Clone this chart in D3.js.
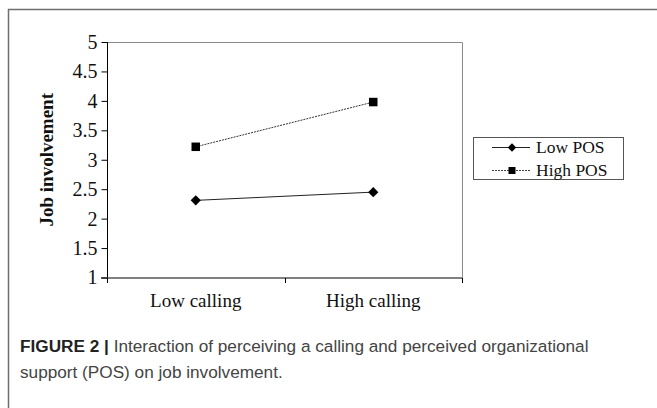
<!DOCTYPE html>
<html>
<head>
<meta charset="utf-8">
<script src="https://cdn.jsdelivr.net/npm/d3@7"></script>
<style>
  body { margin: 0; background: #fff; }
  svg { display: block; }
</style>
</head>
<body>
<svg id="chart" width="657" height="408"></svg>
<script>
// data
const categories = ['Low calling', 'High calling'];
const seriesNames = ['Low POS', 'High POS'];
const lowPOS = [2.31, 2.45];
const highPOS = [3.22, 3.98];
const yTicks = [1, 1.5, 2, 2.5, 3, 3.5, 4, 4.5, 5];
const captionBold = 'FIGURE 2 |';
const captionLines = [
  ' Interaction of perceiving a calling and perceived organizational',
  'support (POS) on job involvement.'
];

const series = [
  { name: seriesNames[0], values: lowPOS, marker: 'diamond', dash: null },
  { name: seriesNames[1], values: highPOS, marker: 'square', dash: '2,1' }
];

const serif = '"Liberation Serif", "Times New Roman", serif';
const sans = '"Liberation Sans", Arial, sans-serif';

const svg = d3.select('#chart');

// outer frame
svg.append('rect')
    .attr('x', 8.5)
    .attr('y', 9.5)
    .attr('width', 700)
    .attr('height', 500)
    .attr('fill', 'none')
    .attr('stroke', '#6e6e6e')
    .attr('stroke-width', 1.5);

const plot = { left: 107, right: 462, top: 42, bottom: 277.5 };

const x = d3.scaleBand()
    .domain(categories)
    .range([plot.left, plot.right]);

const y = d3.scaleLinear()
    .domain([1, 5])
    .range([plot.bottom, plot.top]);

// plot area border (top + right)
svg.append('path')
    .attr('d', `M${plot.left},${plot.top + 0.5}H${plot.right + 0.5}V${plot.bottom}`)
    .attr('fill', 'none')
    .attr('stroke', '#8a8a8a')
    .attr('stroke-width', 1);

// y axis
const yAxis = d3.axisLeft(y)
    .tickValues(yTicks)
    .tickFormat(d3.format('~g'))
    .tickSize(6)
    .tickPadding(4);

svg.append('g')
    .attr('transform', `translate(${plot.left + 0.5},0)`)
    .call(yAxis)
    .call(g => g.select('.domain').attr('d', `M0,${plot.top}V${plot.bottom}`))
    .call(g => g.selectAll('text')
        .attr('font-family', serif)
        .attr('font-size', 20)
        .attr('fill', '#111'));

// x axis: ticks at band boundaries, labels at band centres
const xAxisG = svg.append('g')
    .attr('transform', `translate(0,${plot.bottom + 0.5})`);

xAxisG.append('line')
    .attr('x1', plot.left - 6)
    .attr('x2', plot.right + 0.5)
    .attr('stroke', '#000');

const boundaries = [x(categories[0]), x(categories[1]), x(categories[1]) + x.bandwidth()];
xAxisG.selectAll('.xtick')
  .data(boundaries)
  .join('line')
    .attr('class', 'xtick')
    .attr('x1', d => Math.round(d) + 0.5)
    .attr('x2', d => Math.round(d) + 0.5)
    .attr('y1', 0)
    .attr('y2', 5)
    .attr('stroke', '#000');

xAxisG.selectAll('.xlabel')
  .data(categories)
  .join('text')
    .attr('class', 'xlabel')
    .attr('x', d => x(d) + x.bandwidth() / 2)
    .attr('y', 29)
    .attr('text-anchor', 'middle')
    .attr('font-family', serif)
    .attr('font-size', 19)
    .attr('fill', '#111')
    .text(d => d);

// y axis title
svg.append('text')
    .attr('transform', `translate(53,${(plot.top + plot.bottom) / 2}) rotate(-90)`)
    .attr('text-anchor', 'middle')
    .attr('font-family', serif)
    .attr('font-weight', 'bold')
    .attr('font-size', 19)
    .attr('fill', '#111')
    .text('Job involvement');

// markers
function drawMarker(sel, type, size) {
  if (type === 'square') {
    sel.append('rect')
        .attr('x', -size / 2)
        .attr('y', -size / 2)
        .attr('width', size)
        .attr('height', size)
        .attr('fill', '#000');
  } else {
    const h = size * 0.6;
    sel.append('path')
        .attr('d', `M0,${-h}L${h},0L0,${h}L${-h},0Z`)
        .attr('fill', '#000');
  }
}

const line = d3.line()
    .x((d, i) => x(categories[i]) + x.bandwidth() / 2)
    .y(d => y(d));

const lines = svg.append('g');
series.forEach(s => {
  lines.append('path')
      .datum(s.values)
      .attr('d', line)
      .attr('fill', 'none')
      .attr('stroke', s.dash ? '#333' : '#222')
      .attr('stroke-width', 1)
      .attr('stroke-dasharray', s.dash);

  lines.selectAll(null)
    .data(s.values)
    .join('g')
      .attr('transform', (d, i) => `translate(${x(categories[i]) + x.bandwidth() / 2},${y(d)})`)
      .each(function() { drawMarker(d3.select(this), s.marker, 8.5); });
});

// legend
const legend = svg.append('g')
    .attr('transform', 'translate(473,137)');

legend.append('rect')
    .attr('x', 0.5)
    .attr('y', 0.5)
    .attr('width', 150)
    .attr('height', 42)
    .attr('fill', '#fff')
    .attr('stroke', '#555')
    .attr('stroke-width', 1);

const items = legend.selectAll('.item')
  .data(series)
  .join('g')
    .attr('class', 'item')
    .attr('transform', (d, i) => `translate(0,${10.5 + i * 23})`);

items.append('line')
    .attr('x1', 19)
    .attr('x2', 57)
    .attr('stroke', d => d.dash ? '#444' : '#222')
    .attr('stroke-dasharray', d => d.dash);

items.append('g')
    .attr('transform', 'translate(39,0)')
    .each(function(d) { drawMarker(d3.select(this), d.marker, 7); });

items.append('text')
    .attr('x', 63)
    .attr('y', 5.5)
    .attr('font-family', serif)
    .attr('font-size', 17.5)
    .attr('fill', '#111')
    .text(d => d.name);

// caption
const cap = svg.append('g')
    .attr('font-family', sans)
    .attr('font-size', 17.2)
    .attr('fill', '#444');

const t1 = cap.append('text')
    .attr('x', 20)
    .attr('y', 352);
t1.append('tspan')
    .attr('font-weight', 'bold')
    .attr('fill', '#222')
    .text(captionBold);
t1.append('tspan')
    .text(captionLines[0]);

cap.append('text')
    .attr('x', 20)
    .attr('y', 378)
    .text(captionLines[1]);
</script>
</body>
</html>
